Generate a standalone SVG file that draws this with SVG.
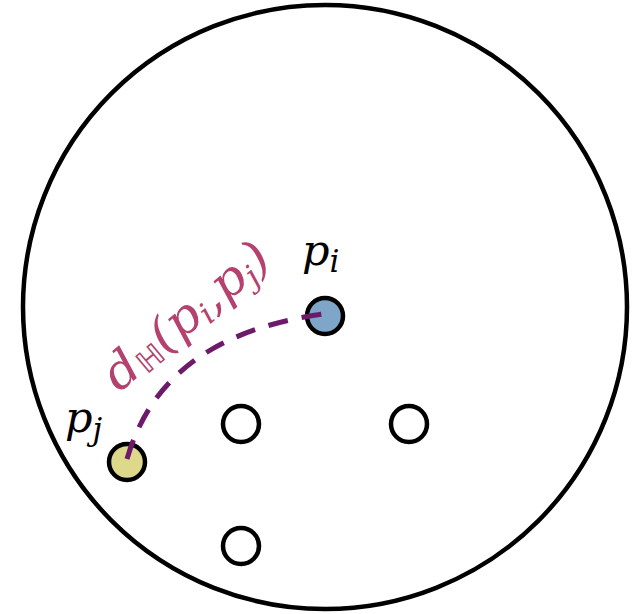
<svg xmlns="http://www.w3.org/2000/svg" width="641" height="614" viewBox="0 0 641 614">
<style>
.node{stroke:#000;stroke-width:4.5}
.lbl{font-family:"DejaVu Serif",serif;font-style:italic;fill:#000}
.dist{font-family:"DejaVu Serif",serif;font-style:italic;fill:#b5416f}
</style>
<rect width="641" height="614" fill="#fff"/>
<g id="disk"><circle cx="325" cy="307" r="302" fill="none" stroke="#000" stroke-width="4.5"/></g>
<g id="pi"><circle class="node" cx="325" cy="316" r="18" fill="#7ea6c8"/>
<text class="lbl" x="302" y="265" font-size="43">p<tspan font-size="31" dy="7">i</tspan></text></g>
<g id="pj"><circle class="node" cx="127" cy="462" r="18" fill="#ddd88a"/>
<text class="lbl" x="65" y="432" font-size="43">p<tspan font-size="31" dy="8">j</tspan></text></g>
<g id="n1"><circle class="node" cx="241" cy="424" r="18" fill="#fff"/></g>
<g id="n2"><circle class="node" cx="409" cy="424" r="18" fill="#fff"/></g>
<g id="n3"><circle class="node" cx="241" cy="546" r="18" fill="#fff"/></g>
<g id="connectors">
<path d="M127 459 C150 380 210 330 323 314" fill="none" stroke="#6d1a6b" stroke-width="5" stroke-dasharray="20 14"/>
</g>
<g id="label"><text class="dist" transform="translate(119,393) rotate(-40)" font-size="48" textLength="202" lengthAdjust="spacingAndGlyphs">d<tspan font-size="30" font-style="normal" font-family="DejaVu Sans, sans-serif" dy="4">ℍ</tspan><tspan dy="-4">(p</tspan><tspan font-size="30" dy="6">i</tspan><tspan dy="-6">,p</tspan><tspan font-size="30" dy="6">j</tspan><tspan dy="-6">)</tspan></text></g>
</svg>
